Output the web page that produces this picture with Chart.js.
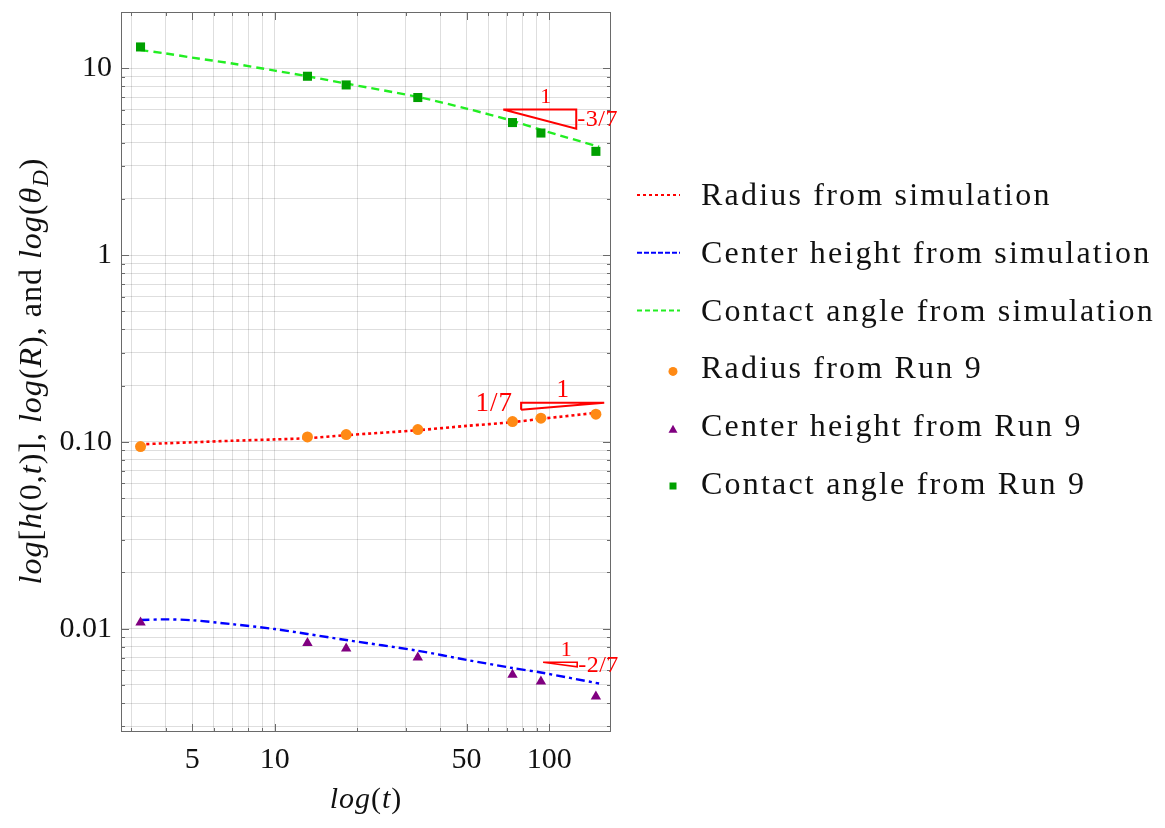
<!DOCTYPE html>
<html>
<head>
<meta charset="utf-8">
<script src="https://cdn.jsdelivr.net/npm/chart.js@4/dist/chart.umd.min.js"></script>
<style>
  html, body { margin: 0; padding: 0; background: #ffffff; }
  #wrap { width: 1165px; height: 828px; position: relative; }
</style>
</head>
<body>
<div id="wrap"><canvas id="c" width="1165" height="828"></canvas></div>
<script>
// ---------- data ----------
const simT      = [3.24, 4, 5, 7, 10, 13.15, 18.2, 33.2, 50, 73.5, 93.3, 152];
const simRadius = [0.097, 0.0983, 0.0995, 0.1014, 0.1031, 0.1047, 0.1086, 0.1155, 0.1218, 0.1275, 0.1328, 0.1436];
const simHeight = [0.01113, 0.01122, 0.0111, 0.01057, 0.00996, 0.00937, 0.0087, 0.00762, 0.00681, 0.00616, 0.00583, 0.00509];
const simAngle  = [12.5, 12.0, 11.4, 10.6, 9.71, 9.06, 8.28, 7.02, 6.08, 5.23, 4.68, 3.80];

const runT      = [3.24, 13.15, 18.2, 33.2, 73.5, 93.3, 148];
const runRadius = [0.0944, 0.1063, 0.1094, 0.1164, 0.1285, 0.1339, 0.1407];
const runHeight = [0.0108, 0.00838, 0.00784, 0.00702, 0.00567, 0.00522, 0.00434];
const runAngle  = [13.0, 9.06, 8.14, 6.97, 5.12, 4.50, 3.59];

const seriesLabels = [
  'Radius from simulation',
  'Center height from simulation',
  'Contact angle from simulation',
  'Radius from Run 9',
  'Center height from Run 9',
  'Contact angle from Run 9'
];

// slope triangles (annotation), in data units
const triAngleT  = [68, 125.5, 125.5, 68];
const triAngleV  = [6.01, 6.01, 4.75, 6.01];
const triAngleText = ['1', '-3/7'];
const triRadiusT = [79, 79, 158.7, 79];
const triRadiusV = [0.1484, 0.1618, 0.1618, 0.1484];
const triRadiusText = ['1', '1/7'];
const triHeightT = [95, 126.5, 126.5, 95];
const triHeightV = [0.00662, 0.00662, 0.00626, 0.00662];
const triHeightText = ['1', '-2/7'];

const xTickValues = [5, 10, 50, 100];
const xTickLabels = ['5', '10', '50', '100'];
const yTickValues = [0.01, 0.1, 1, 10];
const yTickLabels = ['0.01', '0.10', '1', '10'];

const xMin = 2.75, xMax = 168;
const yMin = 0.0028, yMax = 20;

// ---------- helpers ----------
const pts = (xs, ys) => xs.map((x, i) => ({ x: x, y: ys[i] }));
function logGrid(min, max) {
  const out = [];
  for (let e = Math.floor(Math.log10(min)); e <= Math.ceil(Math.log10(max)); e++) {
    for (let m = 1; m <= 9; m++) {
      const v = parseFloat((m * Math.pow(10, e)).toPrecision(6));
      if (v >= min && v <= max * 1.0001) out.push(v);
    }
  }
  return out;
}
function findIdx(v, arr) {
  return arr.findIndex(a => Math.abs(v - a) / a < 1e-6);
}
function isDecade(v) {
  const l = Math.log10(v);
  return Math.abs(l - Math.round(l)) < 1e-6;
}

const SERIF = '"Liberation Serif", "DejaVu Serif", serif';
const RED = '#ff0000';

// ---------- datasets ----------
const datasets = [
  { label: seriesLabels[3], data: pts(runT, runRadius), showLine: false, pointStyle: 'circle',
    pointRadius: 5.5, backgroundColor: '#ff8a14', borderColor: '#ff8a14', pointBorderWidth: 0, legendMarker: true },
  { label: seriesLabels[4], data: pts(runT, runHeight), showLine: false, pointStyle: 'triangle',
    pointRadius: 6, backgroundColor: '#800080', borderColor: '#800080', pointBorderWidth: 0, legendMarker: true },
  { label: seriesLabels[5], data: pts(runT, runAngle), showLine: false, pointStyle: 'rect',
    pointRadius: 6.4, backgroundColor: '#00a000', borderColor: '#00a000', pointBorderWidth: 0, legendMarker: true },
  { label: seriesLabels[0], data: pts(simT, simRadius), showLine: true, borderColor: '#ff0000', borderWidth: 2.6,
    borderDash: [3, 3], pointRadius: 0, tension: 0.3, fill: false, legendLine: true },
  { label: seriesLabels[1], data: pts(simT, simHeight), showLine: true, borderColor: '#0000ff', borderWidth: 2.4,
    borderDash: [9, 4, 3, 4], pointRadius: 0, tension: 0.3, fill: false, legendLine: true, legendDash: [5, 2] },
  { label: seriesLabels[2], data: pts(simT, simAngle), showLine: true, borderColor: '#22ee22', borderWidth: 2.4,
    borderDash: [8, 5], pointRadius: 0, tension: 0.3, fill: false, legendLine: true, legendDash: [5, 3] },
  { label: '', data: pts(triAngleT, triAngleV), showLine: true, borderColor: RED, borderWidth: 2, pointRadius: 0,
    tension: 0, fill: false, clip: false, annotation: triAngleText, annoKind: 'right' },
  { label: '', data: pts(triRadiusT, triRadiusV), showLine: true, borderColor: RED, borderWidth: 2, pointRadius: 0,
    tension: 0, fill: false, clip: false, annotation: triRadiusText, annoKind: 'left' },
  { label: '', data: pts(triHeightT, triHeightV), showLine: true, borderColor: RED, borderWidth: 1.6, pointRadius: 0,
    tension: 0, fill: false, clip: false, annotation: triHeightText, annoKind: 'right' }
];

// ---------- decoration plugin ----------
function drawSegments(ctx, segs, x, y, size, spacing) {
  ctx.letterSpacing = (spacing || 0) + 'px';
  let total = 0;
  segs.forEach(s => {
    const sz = s.sub ? size * 0.72 : size;
    ctx.font = (s.it ? 'italic ' : '') + sz + 'px ' + SERIF;
    s._w = ctx.measureText(s.t).width;
    total += s._w;
  });
  let cx = x - total / 2;
  segs.forEach(s => {
    const sz = s.sub ? size * 0.72 : size;
    ctx.font = (s.it ? 'italic ' : '') + sz + 'px ' + SERIF;
    ctx.fillText(s.t, cx, y + (s.sub ? size * 0.22 : 0));
    cx += s._w;
  });
  ctx.letterSpacing = '0px';
}

const decor = {
  id: 'decor',
  afterDraw(chart) {
    const ctx = chart.ctx, ca = chart.chartArea;
    const xs = chart.scales.x, ys = chart.scales.y;
    ctx.save();

    // frame ticks (inward)
    ctx.strokeStyle = '#6a6a6a';
    ctx.lineWidth = 1;
    ctx.beginPath();
    xs.ticks.forEach(t => {
      const major = findIdx(t.value, xTickValues) >= 0;
      const len = major ? 8 : 4;
      const px = Math.round(xs.getPixelForValue(t.value)) + 0.5;
      ctx.moveTo(px, ca.bottom); ctx.lineTo(px, ca.bottom - len);
      ctx.moveTo(px, ca.top); ctx.lineTo(px, ca.top + len);
    });
    ys.ticks.forEach(t => {
      const major = isDecade(t.value);
      const len = major ? 8 : 4;
      const py = Math.round(ys.getPixelForValue(t.value)) + 0.5;
      ctx.moveTo(ca.left, py); ctx.lineTo(ca.left + len, py);
      ctx.moveTo(ca.right, py); ctx.lineTo(ca.right - len, py);
    });
    ctx.stroke();

    // frame
    ctx.strokeStyle = '#6a6a6a';
    ctx.lineWidth = 1;
    ctx.strokeRect(Math.round(ca.left) + 0.5, Math.round(ca.top) + 0.5,
                   Math.round(ca.width) - 1, Math.round(ca.height) - 1);

    // slope triangle labels
    ctx.fillStyle = RED;
    chart.data.datasets.forEach(ds => {
      if (!ds.annotation) return;
      const d = ds.data;
      const pxs = d.map(p => xs.getPixelForValue(p.x));
      const pys = d.map(p => ys.getPixelForValue(p.y));
      const left = Math.min(...pxs), right = Math.max(...pxs);
      const top = Math.min(...pys), bottom = Math.max(...pys);
      if (ds.annoKind === 'right') {
        ctx.font = '22px ' + SERIF;
        ctx.textAlign = 'center'; ctx.textBaseline = 'middle';
        ctx.fillText(ds.annotation[0], (left + right) / 2 + 6, top - 12);
        ctx.font = '24px ' + SERIF;
        ctx.letterSpacing = '0.5px';
        ctx.textAlign = 'left';
        ctx.fillText(ds.annotation[1], right + 1, (top + bottom) / 2 + 1);
        ctx.letterSpacing = '0px';
      } else {
        ctx.font = '25px ' + SERIF;
        ctx.textAlign = 'center'; ctx.textBaseline = 'middle';
        ctx.fillText(ds.annotation[0], (left + right) / 2, top - 12);
        ctx.font = '27px ' + SERIF;
        ctx.letterSpacing = '1px';
        ctx.textAlign = 'right';
        ctx.fillText(ds.annotation[1], left - 8, top + 1);
        ctx.letterSpacing = '0px';
      }
    });

    // legend
    const rowY0 = 194, rowStep = 57.8;
    const lineX0 = 637, lineX1 = 680, markX = 673, textX = 701;
    let row = 0;
    ctx.textAlign = 'left';
    ctx.textBaseline = 'alphabetic';
    const legendItems = chart.data.datasets.filter(ds => ds.legendLine)
      .concat(chart.data.datasets.filter(ds => ds.legendMarker));
    legendItems.forEach(ds => {
      const cy = rowY0 + rowStep * row;
      if (ds.legendLine) {
        ctx.save();
        ctx.strokeStyle = ds.borderColor;
        ctx.lineWidth = 2;
        ctx.setLineDash(ds.legendDash || ds.borderDash);
        ctx.beginPath();
        ctx.moveTo(lineX0, cy + 1); ctx.lineTo(lineX1, cy + 1);
        ctx.stroke();
        ctx.restore();
      } else {
        ctx.save();
        ctx.fillStyle = ds.backgroundColor;
        const my = cy + 4;
        if (ds.pointStyle === 'circle') {
          ctx.beginPath(); ctx.arc(markX, my, 4.5, 0, Math.PI * 2); ctx.fill();
        } else if (ds.pointStyle === 'triangle') {
          ctx.beginPath();
          ctx.moveTo(markX, my - 4.5); ctx.lineTo(markX + 4.5, my + 3.5); ctx.lineTo(markX - 4.5, my + 3.5);
          ctx.closePath(); ctx.fill();
        } else {
          ctx.fillRect(markX - 3.5, my - 4.5, 7, 7);
        }
        ctx.restore();
      }
      ctx.fillStyle = '#111111';
      ctx.font = '32px ' + SERIF;
      ctx.letterSpacing = '2.2px';
      ctx.fillText(ds.label, textX, cy + 11);
      ctx.letterSpacing = '0px';
      row++;
    });

    // x axis title: log(t)
    ctx.fillStyle = '#111111';
    ctx.textAlign = 'left';
    ctx.textBaseline = 'alphabetic';
    drawSegments(ctx, [
      { t: 'log', it: true }, { t: '(', it: false }, { t: 't', it: true }, { t: ')', it: false }
    ], (ca.left + ca.right) / 2, 808, 30, 1);

    // y axis title
    ctx.save();
    ctx.translate(41, 371);
    ctx.rotate(-Math.PI / 2);
    drawSegments(ctx, [
      { t: 'log', it: true }, { t: '[', it: false }, { t: 'h', it: true }, { t: '(0,', it: false },
      { t: 't', it: true }, { t: ')], ', it: false }, { t: 'log', it: true }, { t: '(', it: false },
      { t: 'R', it: true }, { t: '), and ', it: false }, { t: 'log', it: true }, { t: '(', it: false },
      { t: 'θ', it: true }, { t: 'D', it: true, sub: true }, { t: ')', it: false }
    ], 0, 0, 32, 1);
    ctx.restore();

    ctx.restore();
  }
};

// ---------- chart ----------
const xGrid = logGrid(xMin, xMax);
const yGrid = logGrid(yMin, yMax);

new Chart(document.getElementById('c'), {
  type: 'scatter',
  data: { datasets: datasets },
  options: {
    responsive: false,
    animation: false,
    devicePixelRatio: 1,
    layout: { padding: { top: 12, right: 554, left: 0, bottom: 0 } },
    plugins: { legend: { display: false }, tooltip: { enabled: false }, title: { display: false } },
    elements: { line: { borderCapStyle: 'butt' } },
    scales: {
      x: {
        type: 'logarithmic',
        position: 'bottom',
        min: xMin, max: xMax,
        afterBuildTicks: s => { s.ticks = xGrid.map(v => ({ value: v })); },
        afterFit: s => { s.height = 96; s.paddingLeft = 0; s.paddingRight = 0; },
        grid: { color: 'rgba(0,0,0,0.13)', lineWidth: 1, drawTicks: false },
        border: { display: false },
        ticks: {
          autoSkip: false, maxRotation: 0, minRotation: 0, padding: 10,
          color: '#111111', font: { family: SERIF, size: 30 },
          callback: v => { const i = findIdx(v, xTickValues); return i >= 0 ? xTickLabels[i] : ''; }
        }
      },
      y: {
        type: 'logarithmic',
        position: 'left',
        min: yMin, max: yMax,
        afterBuildTicks: s => { s.ticks = yGrid.map(v => ({ value: v })); },
        afterFit: s => { s.width = 121; s.paddingTop = 0; s.paddingBottom = 0; },
        grid: { color: 'rgba(0,0,0,0.13)', lineWidth: 1, drawTicks: false },
        border: { display: false },
        ticks: {
          autoSkip: false, padding: 9,
          color: '#111111', font: { family: SERIF, size: 30 },
          callback: v => { const i = findIdx(v, yTickValues); return i >= 0 ? yTickLabels[i] : ''; }
        }
      }
    }
  },
  plugins: [decor]
});
</script>
</body>
</html>
